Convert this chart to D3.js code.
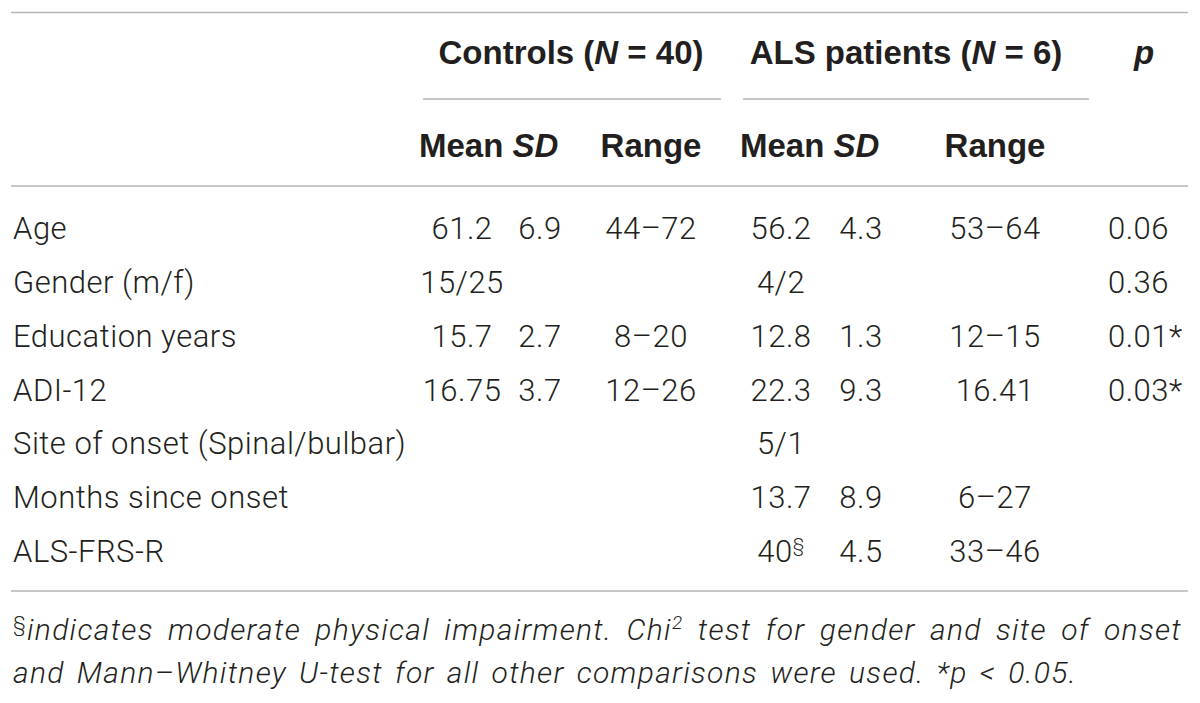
<!DOCTYPE html>
<html>
<head>
<meta charset="utf-8">
<script src="https://cdn.jsdelivr.net/npm/d3@7"></script>
<style>
  body { margin: 0; background: #fff; }
  svg text { fill: #231f20; }
  .bold { font-family: "Liberation Sans", Arial, sans-serif; font-weight: 700; font-size: 33px; }
  .body { font-family: Roboto, "Liberation Sans", sans-serif; font-weight: 300; font-size: 31px; letter-spacing: 0.5px; }
  .note { font-family: Roboto, "Liberation Sans", sans-serif; font-weight: 300; font-style: italic; font-size: 30px; letter-spacing: 1.3px; }
</style>
</head>
<body>
<div id="table"></div>
<script>
// table values, row by row
var rowLabels = ["Age", "Gender (m/f)", "Education years", "ADI-12",
                 "Site of onset (Spinal/bulbar)", "Months since onset", "ALS-FRS-R"];
var ctrlMean  = ["61.2", "15/25", "15.7", "16.75", "", "", ""];
var ctrlSD    = ["6.9", "", "2.7", "3.7", "", "", ""];
var ctrlRange = ["44–72", "", "8–20", "12–26", "", "", ""];
var alsMean   = ["56.2", "4/2", "12.8", "22.3", "5/1", "13.7", "40§"];
var alsSD     = ["4.3", "", "1.3", "9.3", "", "8.9", "4.5"];
var alsRange  = ["53–64", "", "12–15", "16.41", "", "6–27", "33–46"];
var pValues   = ["0.06", "0.36", "0.01*", "0.03*", "", "", ""];

var groupLabels = [
  {key: "ctrl", parts: [["Controls (", false], ["N", true], [" = 40)", false]]},
  {key: "als",  parts: [["ALS patients (", false], ["N", true], [" = 6)", false]]}
];

var W = 1200, H = 703;
var svg = d3.select("#table").append("svg").attr("width", W).attr("height", H);

var columns = ["label", "cMean", "cSD", "cRange", "aMean", "aSD", "aRange", "p"];
var colValues = {label: rowLabels, cMean: ctrlMean, cSD: ctrlSD, cRange: ctrlRange,
                 aMean: alsMean, aSD: alsSD, aRange: alsRange, p: pValues};
var xCol = d3.scaleOrdinal().domain(columns)
  .range([13, 462, 540, 651, 781, 861, 995, 1108]);
var anchorCol = d3.scaleOrdinal().domain(columns)
  .range(["start", "middle", "middle", "middle", "middle", "middle", "middle", "start"]);
var yRow = d3.scalePoint().domain(rowLabels).range([239, 562]);

// group spans (for header and underline)
var xGroup = d3.scaleOrdinal().domain(["ctrl", "als"]).range([[423, 721], [743, 1089]]);
var groupText = d3.scaleOrdinal().domain(["ctrl", "als"]).range([571, 906]);

function rule(y, x0, x1, w) {
  svg.append("line").attr("x1", x0).attr("x2", x1).attr("y1", y).attr("y2", y)
    .attr("stroke", "#b5b5b5").attr("stroke-width", w || 1.6);
}

rule(12.5, 11, 1188);
rule(186, 11, 1188);
rule(591, 11, 1188);

// header row 1
var g1 = svg.append("g");
groupLabels.forEach(function(gl){
  var t = g1.append("text").attr("class", "bold")
    .attr("x", groupText(gl.key)).attr("y", 64).attr("text-anchor", "middle");
  gl.parts.forEach(function(p){
    t.append("tspan").text(p[0]).style("font-style", p[1] ? "italic" : "normal");
  });
  var span = xGroup(gl.key);
  rule(99, span[0], span[1], 1.4);
});
g1.append("text").attr("class", "bold").attr("x", 1144).attr("y", 64)
  .attr("text-anchor", "middle").style("font-style", "italic").text("p");

// header row 2
[["ctrl", 419], ["als", 740]].forEach(function(d){
  var t = svg.append("text").attr("class", "bold").attr("x", d[1]).attr("y", 157);
  t.append("tspan").text("Mean ");
  t.append("tspan").text("SD").style("font-style", "italic");
});
["cRange", "aRange"].forEach(function(c){
  svg.append("text").attr("class", "bold").attr("x", xCol(c)).attr("y", 157)
    .attr("text-anchor", "middle").text("Range");
});

// body cells
columns.forEach(function(c){
  var cells = svg.append("g").selectAll("text")
    .data(colValues[c].map(function(v, i){ return {v: v, row: rowLabels[i]}; })
      .filter(function(d){ return d.v !== ""; }))
    .join("text")
    .attr("class", "body")
    .attr("x", xCol(c))
    .attr("y", function(d){ return yRow(d.row); })
    .attr("text-anchor", anchorCol(c));
  cells.each(function(d){
    var t = d3.select(this);
    if (d.v.slice(-1) === "§") {
      t.append("tspan").text(d.v.slice(0, -1));
      t.append("tspan").text("§").attr("dy", -11).style("font-size", "19px");
    } else {
      t.text(d.v);
    }
  });
});

// footnote, first line justified to the table width
function stretch(sel, right) {
  var spaces = (sel.text().match(/ /g) || []).length;
  var natural = sel.node().getComputedTextLength();
  sel.attr("word-spacing", Math.max(0, (right - 13 - natural) / spaces));
}

var n1 = svg.append("text").attr("class", "note").attr("x", 13).attr("y", 640);
n1.append("tspan").text("§").style("font-style", "normal").style("font-size", "21px").attr("dy", -9);
n1.append("tspan").text("indicates moderate physical impairment. Chi").attr("dy", 9);
n1.append("tspan").text("2").style("font-size", "19px").attr("dy", -11);
n1.append("tspan").text(" test for gender and site of onset").attr("dy", 11);
stretch(n1, 1182);

var n2 = svg.append("text").attr("class", "note").attr("x", 13).attr("y", 683)
  .text("and Mann–Whitney U-test for all other comparisons were used. *p < 0.05.");
stretch(n2, 1077);
</script>
</body>
</html>
